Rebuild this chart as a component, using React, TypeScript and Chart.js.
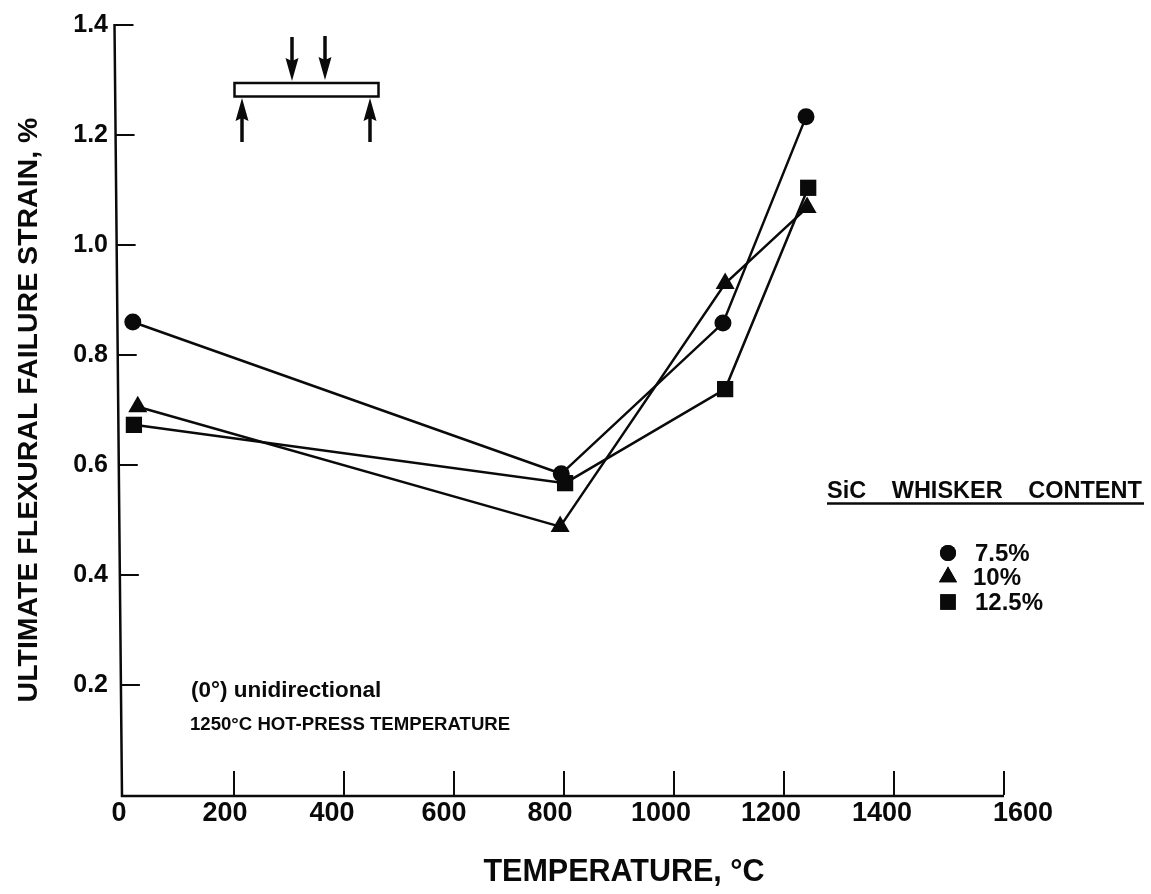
import React, { useEffect, useRef } from "react";
import { Chart, registerables } from "chart.js";
import { drawPoint } from "chart.js/helpers";

Chart.register(...registerables);

const seriesNames = ["7.5%", "10%", "12.5%"];
const pointStyles = ["circle", "triangle", "rect"];
const pointRadii = [8.5, 11, 11.5];

const circleTemps = [16, 795, 1089, 1240];
const circleStrain = [0.86, 0.584, 0.858, 1.233];
const triangleTemps = [25, 793, 1093, 1242];
const triangleStrain = [0.706, 0.488, 0.93, 1.068];
const squareTemps = [18, 802, 1093, 1244];
const squareStrain = [0.673, 0.567, 0.738, 1.104];

const xTickValues = [0, 200, 400, 600, 800, 1000, 1200, 1400, 1600];
const yTickValues = [0, 0.2, 0.4, 0.6, 0.8, 1.0, 1.2, 1.4];
const xLabelShift = [-5, -9, -12, -10, -14, -13, -13, -12, 19];

const xTitle = "TEMPERATURE, °C";
const yTitle = "ULTIMATE FLEXURAL FAILURE STRAIN, %";
const legendTitle = "SiC WHISKER CONTENT";
const noteOne = "(0°) unidirectional";
const noteTwo = "1250°C HOT-PRESS TEMPERATURE";

const FAMILY = '"Liberation Sans", Arial, sans-serif';
const INK = "#0a0a0a";

function zip(xs: number[], ys: number[]) {
  return xs.map((x, i) => ({ x, y: ys[i] }));
}

function arrow(ctx: CanvasRenderingContext2D, x: number, tail: number, tip: number) {
  const dir = tip > tail ? 1 : -1;
  ctx.lineWidth = 3.5;
  ctx.beginPath();
  ctx.moveTo(x, tail);
  ctx.lineTo(x, tip - dir * 18);
  ctx.stroke();
  ctx.beginPath();
  ctx.moveTo(x, tip);
  ctx.lineTo(x - 6.5, tip - dir * 23);
  ctx.lineTo(x, tip - dir * 20);
  ctx.lineTo(x + 6.5, tip - dir * 23);
  ctx.closePath();
  ctx.fill();
}

const decorations = {
  id: "decorations",
  afterDraw(chart: any) {
    const ctx: CanvasRenderingContext2D = chart.ctx;
    const xs = chart.scales.x;
    const ys = chart.scales.y;
    const bottom = ys.getPixelForValue(0);
    const top = ys.getPixelForValue(1.4);
    const slant = (py: number) => 114.5 + ((py - top) / (bottom - top)) * 7.5;

    ctx.save();
    ctx.strokeStyle = INK;
    ctx.fillStyle = INK;
    ctx.lineCap = "butt";

    // axes
    ctx.lineWidth = 2.5;
    ctx.beginPath();
    ctx.moveTo(slant(top), top - 1);
    ctx.lineTo(slant(bottom), bottom + 1);
    ctx.lineTo(xs.getPixelForValue(1600), bottom + 1);
    ctx.stroke();

    ctx.lineWidth = 2;
    ys.ticks.forEach((t: any, i: number) => {
      if (t.value === 0) return;
      const py = ys.getPixelForTick(i);
      ctx.beginPath();
      ctx.moveTo(slant(py), py);
      ctx.lineTo(slant(py) + 19, py);
      ctx.stroke();
    });

    ctx.textBaseline = "middle";
    ctx.textAlign = "center";
    ctx.font = `bold 27px ${FAMILY}`;
    xs.ticks.forEach((t: any, i: number) => {
      const px = xs.getPixelForTick(i);
      if (t.value !== 0) {
        ctx.beginPath();
        ctx.moveTo(px, bottom);
        ctx.lineTo(px, bottom - 24);
        ctx.stroke();
      }
      ctx.fillText(String(t.value), px + (xLabelShift[i] ?? 0), 814);
    });

    ctx.font = `bold 30.5px ${FAMILY}`;
    ctx.fillText(xTitle, 624, 873);

    // notes
    ctx.textAlign = "left";
    ctx.font = `bold 22.5px ${FAMILY}`;
    ctx.fillText(noteOne, 191, 691);
    ctx.font = `bold 18.6px ${FAMILY}`;
    ctx.fillText(noteTwo, 190, 725);

    // legend
    ctx.font = `bold 23.5px ${FAMILY}`;
    (ctx as any).wordSpacing = "19px";
    ctx.fillText(legendTitle, 827, 492);
    (ctx as any).wordSpacing = "0px";
    ctx.lineWidth = 2.5;
    ctx.beginPath();
    ctx.moveTo(827, 503.5);
    ctx.lineTo(1144, 503.5);
    ctx.stroke();

    const rowY = [553, 577, 602];
    const textX = [975, 973, 975];
    const markX = [948, 948, 948];
    ctx.font = `bold 24px ${FAMILY}`;
    seriesNames.forEach((name, i) => {
      drawPoint(ctx, { pointStyle: pointStyles[i], radius: pointRadii[i] * 0.95, rotation: 0, borderWidth: 0 } as any, markX[i], rowY[i]);
      ctx.fill();
      ctx.fillStyle = INK;
      ctx.fillText(name, textX[i], rowY[i] + 1);
    });

    // four-point bending sketch
    ctx.lineWidth = 2.5;
    ctx.strokeRect(234.5, 83, 144, 13.5);
    arrow(ctx, 292, 37, 81);
    arrow(ctx, 325, 36, 80);
    arrow(ctx, 242, 142, 98);
    arrow(ctx, 370, 142, 98);

    ctx.restore();
  },
};

export default function App() {
  const ref = useRef<HTMLCanvasElement | null>(null);

  useEffect(() => {
    const series = [zip(circleTemps, circleStrain), zip(triangleTemps, triangleStrain), zip(squareTemps, squareStrain)];
    const chart = new Chart(ref.current as HTMLCanvasElement, {
      type: "line",
      data: {
        datasets: series.map((data, i) => ({
          label: seriesNames[i],
          data,
          borderColor: INK,
          backgroundColor: INK,
          borderWidth: 2.5,
          pointStyle: pointStyles[i],
          pointRadius: pointRadii[i],
          pointBackgroundColor: INK,
          pointBorderColor: INK,
          pointBorderWidth: 0,
          tension: 0,
          clip: false,
        })),
      },
      options: {
        responsive: false,
        animation: false,
        events: [],
        layout: { padding: { left: 0, right: 147, top: 25, bottom: 0 } },
        plugins: { legend: { display: false }, tooltip: { enabled: false } },
        scales: {
          x: {
            type: "linear",
            min: 0,
            max: 1600,
            afterBuildTicks: (s: any) => { s.ticks = xTickValues.map((value) => ({ value })); },
            afterFit: (s: any) => { s.height = 99; s.paddingLeft = 0; s.paddingRight = 0; },
            grid: { display: false },
            border: { display: false },
            ticks: { display: false },
          },
          y: {
            type: "linear",
            min: 0,
            max: 1.4,
            afterBuildTicks: (s: any) => { s.ticks = yTickValues.map((value) => ({ value })); },
            afterFit: (s: any) => { s.width = 124; s.paddingTop = 0; s.paddingBottom = 0; },
            grid: { display: false, drawTicks: false },
            border: { display: false },
            ticks: {
              color: INK,
              padding: 16,
              font: { family: FAMILY, size: 25, weight: "bold" },
              callback: (v: any) => (Number(v) === 0 ? "" : Number(v).toFixed(1)),
            },
            title: {
              display: true,
              text: yTitle,
              color: INK,
              font: { family: FAMILY, size: 28.5, weight: "bold" },
              padding: { top: 12, bottom: 0 },
            },
          },
        },
      },
      plugins: [decorations],
    } as any);
    return () => chart.destroy();
  }, []);

  return (
    <div style={{ position: "absolute", left: 0, top: 0, width: 1151, height: 894, background: "#fff" }}>
      <canvas ref={ref} width={1151} height={894} style={{ display: "block" }} />
    </div>
  );
}
